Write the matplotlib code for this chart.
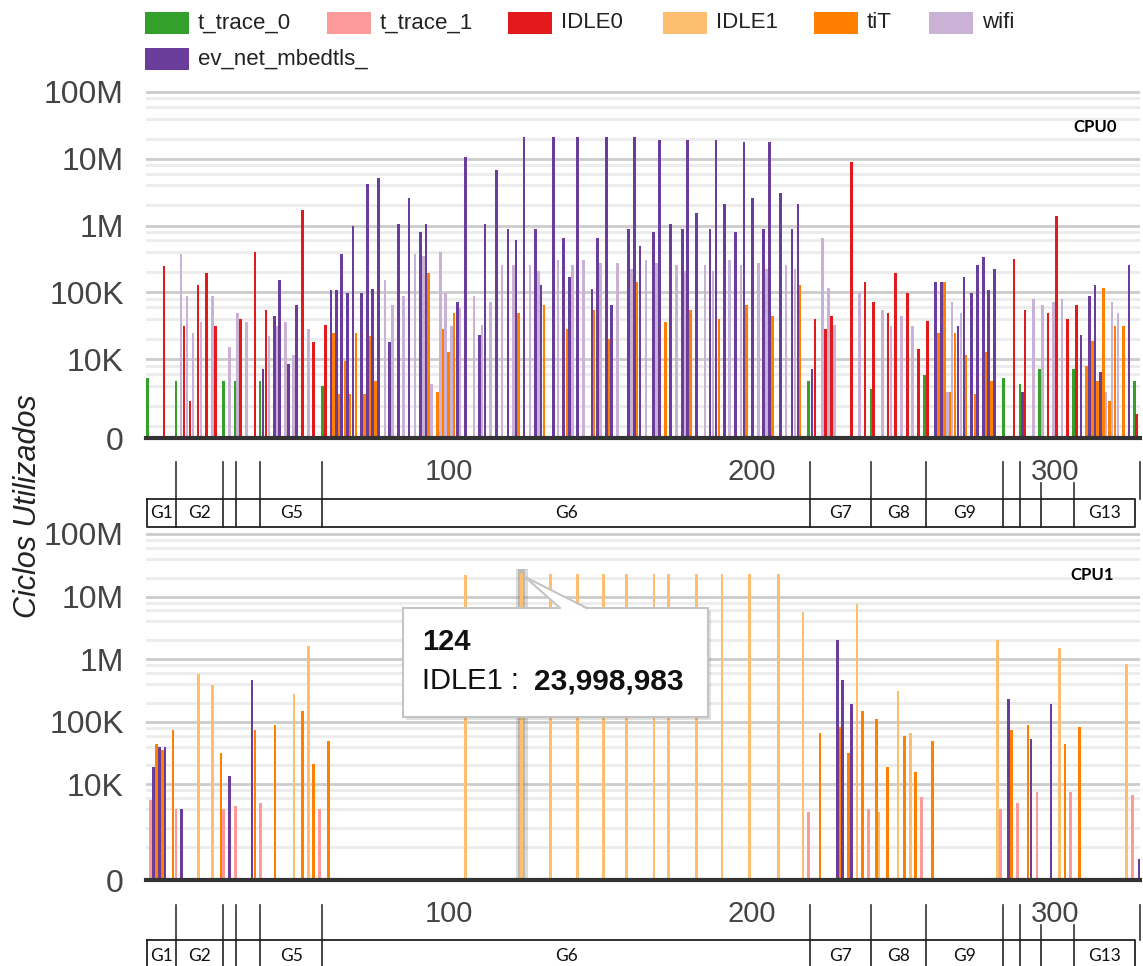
import matplotlib
matplotlib.use('Agg')
import matplotlib.pyplot as plt
from matplotlib.patches import Rectangle, Polygon
from matplotlib.transforms import blended_transform_factory
import numpy as np

plt.rcParams['font.family'] = ['Liberation Sans', 'DejaVu Sans']

series_names = ['t_trace_0', 't_trace_1', 'IDLE0', 'IDLE1', 'tiT', 'wifi', 'ev_net_mbedtls_']
series_codes = 'GPRYOLV'
series_colors = ['#33a02c', '#fb9a99', '#e31a1c', '#fdbf6f', '#ff7f00', '#cab2d6', '#6a3d9a']

# CPU0: event position, task code, cycles
cpu0_x = [0.5, 6.0, 9.9, 11.6, 12.5, 13.5, 14.5, 15.5, 17.2, 18.1,
          20.0, 22.0, 23.0, 25.5, 27.5, 29.4, 30.1, 31.1, 33.1, 35.9,
          37.6, 38.6, 39.6, 40.6, 42.4, 43.1, 44.1, 46.0, 47.0, 48.7,
          49.6, 51.6, 53.6, 55.2, 58.2, 59.2, 61.0, 61.8, 62.8, 63.8,
          64.6, 65.6, 66.4, 67.3, 68.3, 69.3, 71.2, 72.1, 73.0, 73.8,
          74.8, 75.8, 76.7, 78.8, 80.3, 81.3, 83.3, 84.9, 86.8, 88.7,
          90.6, 91.5, 92.4, 93.3, 94.3, 96.2, 97.1, 98.0, 98.9, 99.8,
          100.8, 101.7, 102.7, 103.5, 105.4, 108.2, 110.1, 110.9, 111.9, 113.7,
          115.7, 117.5, 119.4, 121.2, 122.1, 123.0, 124.8, 126.7, 128.6, 129.6,
          130.4, 131.4, 134.4, 135.9, 137.8, 138.9, 139.8, 140.7, 142.4, 144.4,
          147.2, 147.9, 148.9, 149.9, 151.9, 152.8, 153.7, 155.6, 159.3, 160.2,
          161.2, 162.0, 163.0, 165.0, 167.5, 168.5, 169.5, 171.5, 173.1, 175.0,
          177.0, 177.8, 178.6, 179.6, 181.6, 184.4, 186.1, 187.1, 188.1, 189.1,
          190.9, 192.6, 194.6, 196.4, 197.3, 198.2, 200.1, 202.1, 203.7, 204.7,
          205.7, 206.7, 209.4, 211.2, 213.2, 214.2, 215.1, 215.8, 218.7, 219.7,
          220.7, 223.3, 224.3, 225.2, 226.2, 227.2, 232.8, 235.4, 237.3, 239.2,
          240.1, 243.0, 244.8, 245.8, 247.4, 249.3, 251.3, 253.0, 255.0, 256.9,
          257.9, 260.5, 261.5, 262.5, 263.4, 264.5, 265.1, 266.0, 267.0, 267.9,
          268.9, 269.9, 270.6, 272.4, 273.5, 274.4, 276.4, 277.2, 278.1, 279.0,
          280.0, 283.0, 286.4, 288.4, 289.3, 290.1, 292.9, 294.8, 295.8, 297.6,
          299.4, 300.4, 302.3, 304.1, 306.0, 307.0, 308.6, 310.4, 311.4, 312.3,
          313.2, 314.0, 314.9, 315.9, 316.8, 317.9, 318.8, 319.8, 320.7, 322.6,
          324.4, 326.1, 326.9]
cpu0_task = ("GRGLRLRLRL" "RLRGLGLRLR" "GVRLVLVLVL" "VRLRGRVOVO" "VOVOVOVOVO"
             "VOVLVLVLVL" "VLVOLOLOLO" "LOVLVLVLVL" "VLVLVOVLVL" "VOVLVOVLVL"
             "VOVLVOVLVL" "VOVLVLVOVL" "VLVOVLVLVO" "VLVLVOVLVL" "VOVLVLVOGV"
             "RLRLRLRLRG" "RLRLRLRLRG" "RVOVOLOLOV" "LVOVOVVOVO" "VGRGVRLGLR"
             "LRLRGRVOVO" "VOVOLOLOLO" "VGR")
cpu0_val = [5200, 250000, 4700, 380000, 31000, 88000, 2400, 25000, 127000, 36000,
            192000, 88000, 31000, 4700, 15500, 4700, 50000, 40000, 36000, 405000,
            4700, 7100, 54000, 22500, 44000, 31000, 156000, 36000, 8400, 11500,
            64000, 1730000, 28000, 18000, 4000, 33000, 108000, 25000, 108000, 3000,
            380000, 9400, 97000, 3000, 980000, 25000, 97000, 3000, 4200000, 22500,
            114000, 4700, 5100000, 156000, 18000, 64000, 1070000, 88000, 2600000, 380000,
            790000, 350000, 1070000, 192000, 4300, 3200, 405000, 28000, 97000, 12700,
            31000, 49000, 72000, 58000, 10700000, 88000, 23000, 33000, 1070000, 72000,
            6800000, 253000, 880000, 253000, 600000, 49000, 21000000, 253000, 880000, 210000,
            127000, 64000, 21000000, 308000, 660000, 28000, 171000, 253000, 21000000, 308000,
            114000, 54000, 660000, 277000, 21000000, 20000, 64000, 277000, 880000, 228000,
            21000000, 143000, 500000, 308000, 790000, 277000, 19000000, 36000, 1070000, 253000,
            880000, 210000, 19000000, 54000, 1560000, 253000, 880000, 210000, 19000000, 40000,
            2100000, 308000, 790000, 253000, 18000000, 64000, 2600000, 277000, 880000, 228000,
            18000000, 44000, 3100000, 253000, 880000, 228000, 2100000, 127000, 4700, 7100,
            40000, 660000, 28000, 115000, 44000, 33000, 9100000, 97000, 141000, 3600,
            72000, 54000, 49000, 31000, 192000, 44000, 97000, 31000, 14000, 5800,
            37000, 141000, 25000, 141000, 141000, 3200, 3200, 72000, 25000, 31000,
            49000, 173000, 11500, 97000, 3000, 253000, 340000, 12700, 108000, 4700,
            228000, 5300, 311000, 4300, 3200, 54000, 80000, 7100, 65000, 49000,
            72000, 1400000, 80000, 40000, 7100, 65000, 23000, 7900, 88000, 18600,
            127000, 4700, 6500, 115000, 3200, 2400, 72000, 31000, 49000, 31000,
            253000, 4700, 1500]

# CPU1
cpu1_x = [1.4, 2.4, 3.4, 4.4, 5.4, 6.2, 8.9, 9.9, 11.8, 17.4,
          21.9, 24.8, 25.5, 27.5, 29.5, 35.0, 36.0, 37.7, 42.6, 48.8,
          51.6, 53.6, 55.3, 57.2, 60.2, 105.4, 124.0, 133.4, 142.4, 150.9,
          158.5, 167.6, 172.5, 181.6, 190.1, 199.1, 208.7, 216.8, 218.7, 222.4,
          228.1, 228.9, 229.8, 231.8, 232.8, 234.6, 236.4, 238.4, 241.0, 241.9,
          244.7, 248.2, 250.3, 252.2, 253.9, 255.9, 259.6, 281.0, 282.0, 284.6,
          285.6, 287.5, 291.1, 292.0, 294.0, 298.6, 301.4, 303.2, 305.0, 308.0,
          323.6, 325.5, 327.7]
cpu1_task = ("PVOVOVOPVY" "YOPVPVOPOY" "OYOPOYYYYY" "YYYYYYYYPO" "VOVOVYOPOY"
             "OYOYOPOYPV" "OPOVPVYOPO" "YPV")
cpu1_val = [5600, 19000, 44000, 39000, 35000, 39000, 74000, 4000, 4000, 575000,
            385000, 32000, 4000, 13700, 4500, 462000, 74000, 5000, 90000, 280000,
            151000, 1600000, 21000, 4000, 49000, 22000000, 23998983, 23000000, 23000000, 23000000,
            23000000, 23000000, 23000000, 23000000, 23000000, 23000000, 23000000, 5700000, 3600, 65000,
            2000000, 81000, 462000, 32000, 190000, 7600000, 151000, 4000, 109000, 3600,
            19000, 312000, 59000, 65000, 15500, 6300, 49000, 2000000, 4000, 227000,
            74000, 5000, 90000, 53000, 7500, 190000, 1500000, 44000, 7500, 81000,
            850000, 6700, 640]

# groups separated by t_trace_0 events
group_edges = [0.2, 9.9, 25.5, 29.6, 37.6, 58.2, 219.2, 239.3, 257.4, 282.8, 288.5, 295.3, 306.1, 326.4]
group_labels = ['G1', 'G2', '', '', 'G5', 'G6', 'G7', 'G8', 'G9', '', '', '', 'G13']
x_ticks = [100, 200, 300]

y_major = [1e4, 1e5, 1e6, 1e7, 1e8]
y_major_labels = ['10K', '100K', '1M', '10M', '100M']

W, H = 1143, 966
fig = plt.figure(figsize=(W / 100, H / 100), dpi=100)


def px_axes(x0, y0, x1, y1):
    return fig.add_axes([x0 / W, 1 - y1 / H, (x1 - x0) / W, (y1 - y0) / H])


def draw_panel(ax, xs, tasks, vals, ymin, ymax):
    ax.set_yscale('log')
    for code, color in zip(series_codes, series_colors):
        sx = [x for x, t in zip(xs, tasks) if t == code]
        sv = [v for v, t in zip(vals, tasks) if t == code]
        if sx:
            ax.bar(sx, sv, width=0.85, color=color, zorder=2, linewidth=0)
    ax.set_xlim(0, 328)
    ax.set_ylim(ymin, ymax)
    ax.set_yticks([ymin] + y_major)
    ax.set_yticklabels(['0'] + y_major_labels)
    minor = [1000] + [m * 10 ** k for k in range(3, 8) for m in (2, 4, 6, 8)]
    ax.set_yticks([m for m in minor if m > ymin * 1.1], minor=True)
    ax.yaxis.set_minor_formatter(matplotlib.ticker.NullFormatter())
    ax.grid(which='major', axis='y', color='#cccccc', lw=2, zorder=0)
    ax.grid(which='minor', axis='y', color='#ebebeb', lw=2, zorder=0)
    ax.set_axisbelow(True)
    ax.tick_params(which='both', length=0)
    ax.tick_params(axis='y', labelsize=23, colors='#444444', pad=16)
    ax.set_xticks([])
    for s in ax.spines.values():
        s.set_visible(False)
    ax.axhline(ymin, color='#333333', lw=3, zorder=4, clip_on=False)


ax0 = px_axes(146, 90, 1140, 438)
draw_panel(ax0, cpu0_x, cpu0_task, cpu0_val, 662, 1.071e8)
ax1 = px_axes(146, 532, 1140, 880)
draw_panel(ax1, cpu1_x, cpu1_task, cpu1_val, 296, 1.076e8)

# hovered bar highlight
ax1.add_patch(Rectangle((122.1, 296), 3.8, 2.8e7, color='#9a9a9a', alpha=0.35, lw=0, zorder=1.5))
ax1.add_patch(Rectangle((122.9, 296), 2.2, 2.8e7, color='#808080', alpha=0.35, lw=0, zorder=1.6))

# overlay in pixel coordinates
ov = fig.add_axes([0, 0, 1, 1])
ov.set_xlim(0, W)
ov.set_ylim(H, 0)
ov.set_autoscale_on(False)
ov.axis('off')
ov.set_zorder(5)
ov.patch.set_alpha(0)

# legend
leg_pos = [(145, 12), (327, 12), (508, 12), (663, 12), (814, 12), (929, 12), (145, 48)]
for (lx, ly), name, color in zip(leg_pos, series_names, series_colors):
    ov.add_patch(Rectangle((lx, ly), 44, 22, color=color, lw=0))
    ov.text(lx + 53, ly + 11, name, fontsize=16, color='#222222', va='center', ha='left')

ov.text(28, 506, 'Ciclos Utilizados', rotation=90, style='italic', fontsize=22,
        color='#222222', ha='center', va='center')
ov.text(1095, 127, 'CPU0', fontsize=12, weight='bold', family=['Lato', 'DejaVu Sans'],
        ha='center', va='center')
ov.text(1092, 575, 'CPU1', fontsize=12, weight='bold', family=['Lato', 'DejaVu Sans'],
        ha='center', va='center')


def draw_strip(ax, y_top, y_short, y_lbl, y_box_top, y_box_bot, y_glbl):
    tr = blended_transform_factory(ax.transData, ov.transData)
    for b in group_edges[1:-1] + [328]:
        y0 = y_short if abs(b - 300) < 10 else y_top
        ov.plot([b, b], [y0, y_box_top], transform=tr, color='#333333', lw=1.2)
    e0, e1 = group_edges[0], group_edges[-1]
    ov.plot([e0, e1, e1, e0, e0], [y_box_top, y_box_top, y_box_bot, y_box_bot, y_box_top],
            transform=tr, color='#222222', lw=1.3)
    for b in group_edges[1:-1]:
        ov.plot([b, b], [y_box_top, y_box_bot], transform=tr, color='#222222', lw=1.2)
    for a, b, lbl in zip(group_edges[:-1], group_edges[1:], group_labels):
        if lbl:
            ov.text((a + b) / 2, y_glbl, lbl, transform=tr, fontsize=12.5,
                    family=['Lato', 'DejaVu Sans'], ha='center', va='center', color='#111111')
    for t in x_ticks:
        ov.text(t, y_lbl, str(t), transform=tr, fontsize=21, color='#444444',
                ha='center', va='center')


draw_strip(ax0, 462, 483, 472, 499, 527, 513)
draw_strip(ax1, 905, 925, 914, 940, 978, 956)

# tooltip
ov.add_patch(Rectangle((406, 611), 305, 109, color='#000000', alpha=0.12, lw=0))
ov.add_patch(Rectangle((403, 608), 305, 109, facecolor='white', edgecolor='#c4c4c4', lw=1.5))
ov.add_patch(Polygon([(525, 577), (560, 609.5), (587, 609.5)], closed=True,
                     facecolor='white', edgecolor='none'))
ov.plot([560, 525, 587], [608, 577, 608], color='#c4c4c4', lw=1.5)
ov.text(422, 642, '124', fontsize=21, weight='bold', color='#111111', va='center')
ov.text(422, 681, 'IDLE1 :', fontsize=21, color='#111111', va='center')
ov.text(534, 681, '23,998,983', fontsize=21.5, weight='bold', color='#111111', va='center')

fig.savefig('out.png', dpi=100)
